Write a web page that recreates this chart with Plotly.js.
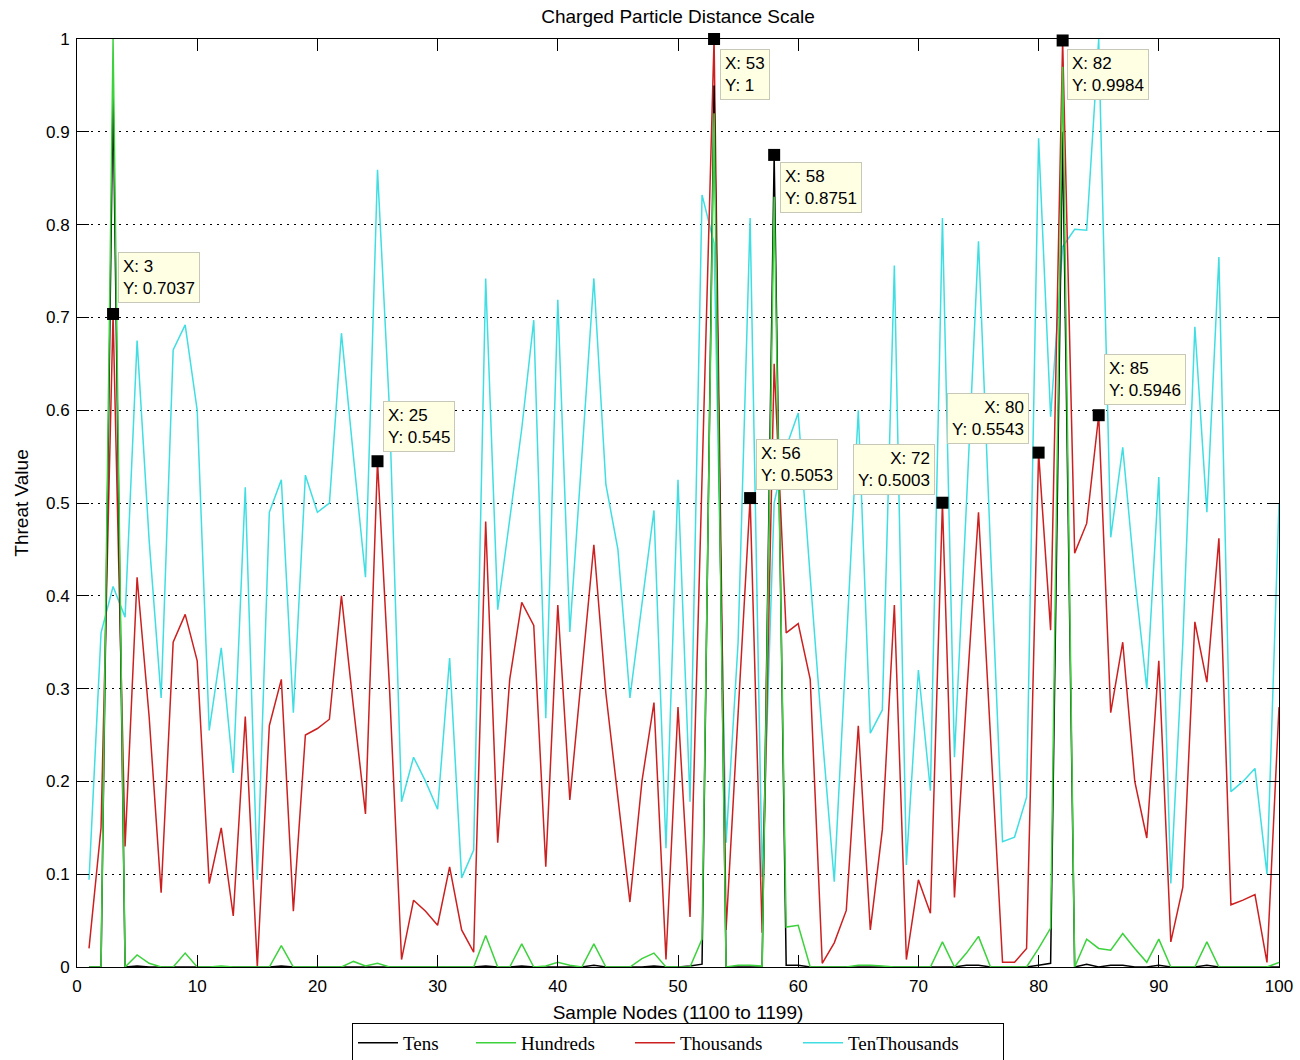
<!DOCTYPE html>
<html>
<head>
<meta charset="utf-8">
<script src="https://cdn.plot.ly/plotly-3.0.1.min.js"></script>
<style>
  html, body { margin: 0; padding: 0; background: #fff; }
  #chart { width: 1300px; height: 1060px; }
</style>
</head>
<body>
<div id="chart"></div>
<script>
// Sample node index (1100 to 1199 shown as 1..100)
const nodes = [1,2,3,4,5,6,7,8,9,10,11,12,13,14,15,16,17,18,19,20,
  21,22,23,24,25,26,27,28,29,30,31,32,33,34,35,36,37,38,39,40,
  41,42,43,44,45,46,47,48,49,50,51,52,53,54,55,56,57,58,59,60,
  61,62,63,64,65,66,67,68,69,70,71,72,73,74,75,76,77,78,79,80,
  81,82,83,84,85,86,87,88,89,90,91,92,93,94,95,96,97,98,99,100];

const tens = [0,0,0.94,0,0.001,0,0,0,0,0, 0,0,0,0,0,0,0.001,0,0,0,
  0,0,0,0,0,0,0,0,0,0, 0,0,0,0.001,0,0,0.001,0,0,0,
  0,0,0.002,0,0,0,0,0.001,0,0, 0.001,0.003,0.95,0,0,0,0,0.8751,0.002,0.002,
  0,0,0,0,0,0,0,0,0,0, 0,0,0,0.002,0.002,0,0,0,0,0.002,
  0.004,0.9,0,0.003,0,0.002,0.002,0,0,0.002, 0,0,0,0.002,0,0,0,0,0,0];

const hundreds = [0,0,1.0,0,0.013,0.004,0,0,0.015,0, 0,0.001,0,0,0,0,0.023,0,0,0,
  0,0,0.006,0.001,0.004,0,0,0,0,0, 0,0,0,0.034,0,0,0.025,0,0.001,0.005,
  0.002,0,0.025,0,0,0,0.009,0.015,0,0, 0,0.03,0.92,0,0.002,0.002,0.001,0.83,0.043,0.045,
  0,0,0,0,0.002,0.002,0.001,0,0,0, 0,0.027,0,0.015,0.033,0,0,0,0,0.02,
  0.042,0.97,0,0.03,0.02,0.018,0.036,0.02,0.005,0.03, 0,0,0,0.027,0,0,0,0,0,0.005];

const thousands = [0.02,0.15,0.7037,0.13,0.42,0.27,0.08,0.35,0.38,0.33,
  0.09,0.15,0.055,0.27,0.0,0.26,0.31,0.06,0.25,0.257,
  0.267,0.40,0.28,0.165,0.545,0.3,0.008,0.072,0.06,0.045,
  0.108,0.04,0.016,0.48,0.134,0.31,0.393,0.368,0.108,0.39,
  0.18,0.32,0.455,0.295,0.18,0.07,0.2,0.285,0.008,0.28,
  0.054,0.52,1.0,0.04,0.28,0.5053,0.037,0.65,0.36,0.37,
  0.31,0.004,0.026,0.061,0.26,0.04,0.148,0.39,0.008,0.094,
  0.058,0.5003,0.075,0.29,0.49,0.25,0.005,0.005,0.02,0.5543,
  0.363,0.9984,0.446,0.478,0.5946,0.274,0.35,0.2,0.139,0.33,
  0.027,0.086,0.372,0.307,0.462,0.067,0.072,0.078,0.005,0.28];

const tenThousands = [0.094,0.36,0.41,0.377,0.675,0.46,0.29,0.665,0.692,0.6,
  0.255,0.344,0.209,0.517,0.094,0.49,0.525,0.274,0.53,0.49,
  0.5,0.683,0.55,0.42,0.859,0.6,0.178,0.226,0.2,0.17,
  0.333,0.096,0.126,0.742,0.385,0.48,0.58,0.697,0.268,0.719,
  0.361,0.55,0.742,0.52,0.45,0.29,0.39,0.492,0.128,0.525,
  0.178,0.832,0.78,0.134,0.35,0.807,0.097,0.5,0.56,0.597,
  0.42,0.25,0.092,0.35,0.6,0.252,0.277,0.756,0.11,0.32,
  0.19,0.807,0.226,0.5,0.782,0.45,0.135,0.14,0.183,0.893,
  0.593,0.776,0.795,0.794,1.0,0.463,0.56,0.42,0.3,0.528,
  0.09,0.35,0.69,0.49,0.765,0.189,0.2,0.214,0.1,0.5];

// Data cursors
const cursorX = [3, 25, 53, 56, 58, 72, 80, 82, 85];
const cursorY = [0.7037, 0.545, 1, 0.5053, 0.8751, 0.5003, 0.5543, 0.9984, 0.5946];

const xTicks = [0,10,20,30,40,50,60,70,80,90,100];
const yTicks = [0,0.1,0.2,0.3,0.4,0.5,0.6,0.7,0.8,0.9,1];
const yTickText = ['0','0.1','0.2','0.3','0.4','0.5','0.6','0.7','0.8','0.9','1'];

// Box placement per cursor (style only)
const boxStyle = [
  {xa:'left',  ya:'bottom', xs:5,   ys:11, al:'left'},
  {xa:'left',  ya:'bottom', xs:5,   ys:9,  al:'left'},
  {xa:'left',  ya:'top',    xs:6,   ys:-10,al:'left'},
  {xa:'left',  ya:'bottom', xs:6,   ys:8,  al:'left'},
  {xa:'left',  ya:'top',    xs:6,   ys:-7, al:'left'},
  {xa:'right', ya:'bottom', xs:-7,  ys:8,  al:'right'},
  {xa:'right', ya:'bottom', xs:-10, ys:9,  al:'right'},
  {xa:'left',  ya:'top',    xs:4,   ys:-9, al:'left'},
  {xa:'left',  ya:'bottom', xs:5,   ys:10, al:'left'}
];

const FONT = 'Liberation Sans, Arial, sans-serif';
const lw = 1.5;
const traces = [
  {x: nodes, y: tenThousands, name: 'TenThousands', mode: 'lines', legendrank: 4, legendwidth: 150,
   line: {color: 'rgb(64,222,226)', width: lw}},
  {x: nodes, y: thousands, name: 'Thousands', mode: 'lines', legendrank: 3, legendwidth: 113,
   line: {color: 'rgb(204,32,32)', width: lw}},
  {x: nodes, y: tens, name: 'Tens', mode: 'lines', legendrank: 1, legendwidth: 63,
   line: {color: 'rgb(0,0,0)', width: lw}},
  {x: nodes, y: hundreds, name: 'Hundreds', mode: 'lines', legendrank: 2, legendwidth: 104,
   line: {color: 'rgb(60,210,60)', width: lw}},
  {x: cursorX, y: cursorY, mode: 'markers', showlegend: false, cliponaxis: false,
   marker: {symbol: 'square', size: 12, color: '#000'}, hoverinfo: 'skip'}
];

const annotations = cursorX.map((cx, i) => ({
  x: cx, y: cursorY[i], xref: 'x', yref: 'y',
  text: 'X: ' + cx + '<br>Y: ' + cursorY[i],
  showarrow: false,
  xanchor: boxStyle[i].xa, yanchor: boxStyle[i].ya,
  xshift: boxStyle[i].xs, yshift: boxStyle[i].ys,
  align: boxStyle[i].al,
  bgcolor: 'rgb(255,255,228)', bordercolor: 'rgb(200,200,185)', borderwidth: 1, borderpad: 4,
  font: {family: FONT, size: 17, color: '#000'}
}));

const layout = {
  width: 1300, height: 1060,
  margin: {l: 77, r: 21, t: 39, b: 93, pad: 0},
  paper_bgcolor: '#fff', plot_bgcolor: '#fff',
  font: {family: FONT, color: '#000', size: 17},
  title: {text: 'Charged Particle Distance Scale', xref: 'paper', x: 0.5, xanchor: 'center',
          y: 1 - 16/1060, yanchor: 'middle',
          font: {family: FONT, size: 19, color: '#000'}},
  xaxis: {
    range: [0, 100], tickmode: 'array', tickvals: xTicks,
    ticks: 'inside', ticklen: 12, tickwidth: 1, tickcolor: '#000',
    showline: true, linecolor: '#000', linewidth: 1, mirror: 'ticks',
    showgrid: false, zeroline: false, automargin: false,
    tickfont: {size: 17, color: '#000'}, ticklabelstandoff: 4,
    title: {text: 'Sample Nodes (1100 to 1199)', standoff: 10,
            font: {size: 19, color: '#000'}}
  },
  yaxis: {
    range: [0, 1], tickmode: 'array', tickvals: yTicks, ticktext: yTickText,
    ticks: 'inside', ticklen: 12, tickwidth: 1, tickcolor: '#000',
    showline: true, linecolor: '#000', linewidth: 1, mirror: 'ticks',
    showgrid: true, gridcolor: '#000', gridwidth: 1, griddash: '2px,5px',
    zeroline: false, automargin: false,
    tickfont: {size: 17, color: '#000'}, ticklabelstandoff: 3,
    title: {text: 'Threat Value', standoff: 12, font: {size: 19, color: '#000'}}
  },
  legend: {
    orientation: 'h', xref: 'paper', x: 0.5, xanchor: 'center',
    yref: 'container', y: 1 - 1023/1060, yanchor: 'top',
    bgcolor: '#fff', bordercolor: '#000', borderwidth: 1,
    font: {family: 'Liberation Serif, Times New Roman, serif', size: 19, color: '#000'},
    itemwidth: 40
  },
  annotations: annotations,
  showlegend: true
};

Plotly.newPlot('chart', traces, layout, {displayModeBar: false, staticPlot: true});
</script>
</body>
</html>
